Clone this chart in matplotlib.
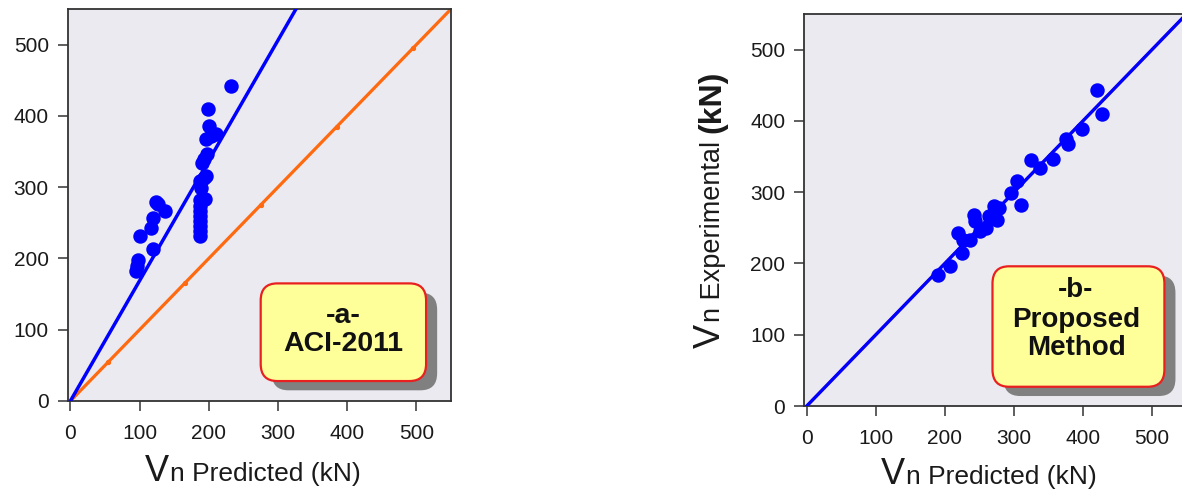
import matplotlib
matplotlib.use("Agg")
import matplotlib.pyplot as plt
from matplotlib.patches import FancyBboxPatch
from matplotlib.transforms import IdentityTransform

plt.rcParams['font.family'] = ['Liberation Sans', 'DejaVu Sans']

# panel a: ACI-2011 predictions vs experiment
pred_a = [95, 96, 98, 101, 120, 117, 120, 124, 127, 137,
          188, 188, 188, 188, 188, 188, 188, 188, 195,
          189, 188, 193, 196, 190, 197, 193, 196, 201, 210, 203, 199, 232]
exp_a = [183, 190, 198, 232, 213, 243, 257, 279, 276, 267,
         232, 238, 245, 252, 260, 267, 274, 282, 283,
         299, 309, 313, 316, 334, 347, 340, 368, 386, 375, 372, 409, 442]
fit_a_x = [0, 326]
fit_a_y = [0, 550]

# panel b: proposed method
pred_b = [190, 208, 225, 219, 226, 237, 242, 243, 251, 259, 264, 271, 276, 279,
          296, 304, 311, 325, 338, 356, 376, 379, 399, 420, 428]
exp_b = [184, 197, 214, 243, 233, 233, 268, 259, 245, 250, 266, 280, 261, 278,
         299, 315, 282, 345, 334, 347, 374, 368, 388, 444, 410]
fit_b_x = [0, 560]
fit_b_y = [0, 560]

# 1:1 reference line
ref_x = [0, 560]
ref_y = [0, 560]
ref_marks = [55, 165, 275, 385, 495]

ticks = [0, 100, 200, 300, 400, 500]

W, H = 1182, 492
BLUE = '#0000ff'
ORANGE = '#ff6a10'
BG = '#eaeaf0'

fig = plt.figure(figsize=(W / 100, H / 100), dpi=100)


def px_axes(left, top, right, bottom):
    return fig.add_axes([left / W, 1 - bottom / H, (right - left) / W, (bottom - top) / H])


def style(ax):
    ax.set_facecolor(BG)
    ax.set_xlim(-4, 550)
    ax.set_ylim(0, 550)
    ax.set_xticks(ticks)
    ax.set_yticks(ticks)
    for s in ax.spines.values():
        s.set_color('#333333')
        s.set_linewidth(1.3)
    ax.tick_params(axis='both', direction='out', length=7.5, width=1.1,
                   color='#333333', labelsize=15, labelcolor='#1a1a1a')
    ax.tick_params(axis='x', pad=9)
    ax.tick_params(axis='y', pad=6)


def label_box(ax, x0, y0, w, h, lines, ys, xc, size):
    shadow = FancyBboxPatch((x0 + 16, y0 - 13), w, h,
                            boxstyle='round,pad=0,rounding_size=24',
                            fc='#808080', ec='none', zorder=4)
    box = FancyBboxPatch((x0, y0), w, h, boxstyle='round,pad=0,rounding_size=24',
                         fc='#ffff99', ec='#e82020', lw=1.6, zorder=5)
    ax.add_patch(shadow)
    ax.add_patch(box)
    for s, y in zip(lines, ys):
        ax.text(xc, y, s, ha='center', va='center', fontsize=size,
                fontweight='bold', color='#111111', zorder=6)


ax_a = px_axes(67.6, 9, 451, 401)
style(ax_a)
ax_a.plot(ref_x, ref_y, color=ORANGE, lw=2.3, zorder=2)
ax_a.plot(ref_marks, ref_marks, 'o', color=ORANGE, ms=2.8, zorder=2)
ax_a.plot(fit_a_x, fit_a_y, color=BLUE, lw=2.5, zorder=3)
ax_a.plot(pred_a, exp_a, 'o', color=BLUE, ms=9.4, zorder=3)
label_box(ax_a, 275, 28, 239, 137, ['-a-', 'ACI-2011'], [119, 80], 394, 20.5)

ax_b = px_axes(804, 14, 1186.5, 406)
style(ax_b)
ax_b.plot(ref_x, ref_y, color=ORANGE, lw=2.0, zorder=2)
ax_b.plot(fit_b_x, fit_b_y, color=BLUE, lw=2.4, zorder=3)
ax_b.plot(pred_b, exp_b, 'o', color=BLUE, ms=9.4, zorder=3)
label_box(ax_b, 269, 27, 249, 169, ['-b-', 'Proposed', 'Method'], [163, 121, 81], 390, 20)

fig.canvas.draw()
renderer = fig.canvas.get_renderer()


def rich_text(cx, base, parts, vertical=False):
    # parts drawn side by side on one baseline, centred on cx (pixels)
    texts = []
    for s, size, weight in parts:
        t = fig.text(0, 0, s, fontsize=size, fontweight=weight, color='#1a1a1a',
                     ha='left', va='baseline', rotation=90 if vertical else 0,
                     rotation_mode='anchor', transform=IdentityTransform())
        texts.append(t)
    lens = []
    for t in texts:
        bb = t.get_window_extent(renderer)
        lens.append(bb.height if vertical else bb.width)
    pos = cx - sum(lens) / 2
    for t, L in zip(texts, lens):
        if vertical:
            t.set_position((base, pos))
        else:
            t.set_position((pos, base))
        pos += L + 1


rich_text(252, H - 481, [('V', 26, 'normal'), ('n Predicted (kN)', 19, 'normal')])
rich_text(988, H - 484, [('V', 26, 'normal'), ('n Predicted (kN)', 19, 'normal')])
rich_text(H - 210, 720, [('V', 26, 'normal'), ('n Experimental ', 19.5, 'normal'),
                          ('(kN)', 23, 'bold')], vertical=True)

fig.savefig('out.png', dpi=100)
